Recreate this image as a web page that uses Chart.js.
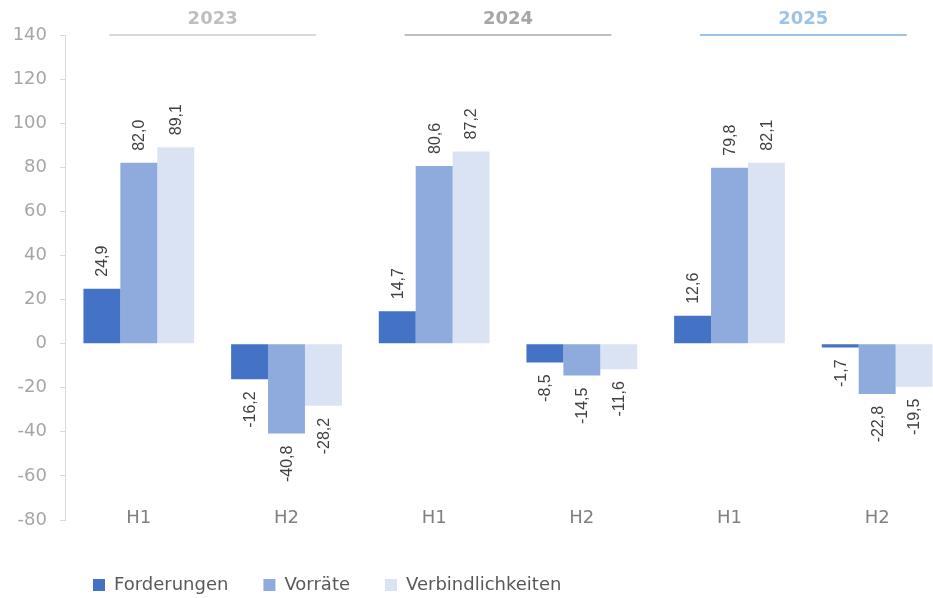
<!DOCTYPE html>
<html>
<head>
<meta charset="utf-8">
<title>Forderungen, Vorräte, Verbindlichkeiten</title>
<script src="https://cdn.jsdelivr.net/npm/chart.js@4.4.1/dist/chart.umd.min.js"></script>
<style>
  html, body { margin: 0; padding: 0; background: #fff; overflow: hidden; }
  #wrap { width: 951px; height: 598px; }
</style>
</head>
<body>
<div id="wrap"><canvas id="chart" width="951" height="598"></canvas></div>
<script>
// half years, grouped by year
const categories = ["H1", "H2", "H1", "H2", "H1", "H2"];
const years = ["2023", "2024", "2025"];

const forderungen = [24.9, -16.2, 14.7, -8.5, 12.6, -1.7];
const vorraete = [82.0, -40.8, 80.6, -14.5, 79.8, -22.8];
const verbindlichkeiten = [89.1, -28.2, 87.2, -11.6, 82.1, -19.5];

const yTicks = { min: -80, max: 140, step: 20 };

const yearTextColors = ["#bfbfbf", "#a6a6a6", "#9dc3e6"];
const yearLineColors = ["#d9d9d9", "#bfbfbf", "#9dc3e6"];

Chart.defaults.font.family = "'DejaVu Sans', sans-serif";

function fmt(v) {
    return v.toFixed(1).replace(".", ",");
}

// rotated value labels at the bar ends
const valueLabels = {
    id: "valueLabels",
    afterDatasetsDraw(chart) {
        const ctx = chart.ctx;
        ctx.save();
        ctx.font = "16px 'Liberation Sans', Arial, sans-serif";
        ctx.fillStyle = "#404040";
        ctx.textBaseline = "middle";
        chart.data.datasets.forEach((ds, i) => {
            const meta = chart.getDatasetMeta(i);
            meta.data.forEach((bar, j) => {
                const v = ds.data[j];
                ctx.save();
                ctx.translate(bar.x + 1, v >= 0 ? bar.y - 12 : bar.y + 12);
                ctx.rotate(-Math.PI / 2);
                ctx.textAlign = v >= 0 ? "left" : "right";
                ctx.fillText(fmt(v), 0, 0);
                ctx.restore();
            });
        });
        ctx.restore();
    }
};

// year headings with a line over each pair of half years
const yearHeaders = {
    id: "yearHeaders",
    afterDraw(chart) {
        const ctx = chart.ctx;
        const x = chart.scales.x;
        const top = chart.chartArea.top;
        const step = x.getPixelForValue(1) - x.getPixelForValue(0);
        ctx.save();
        years.forEach((yr, k) => {
            const cx = (x.getPixelForValue(2 * k) + x.getPixelForValue(2 * k + 1)) / 2;
            ctx.strokeStyle = yearLineColors[k];
            ctx.lineWidth = 2;
            ctx.beginPath();
            ctx.moveTo(cx - step * 0.7, top);
            ctx.lineTo(cx + step * 0.7, top);
            ctx.stroke();
            ctx.font = "bold 18px 'DejaVu Sans', sans-serif";
            ctx.fillStyle = yearTextColors[k];
            ctx.textAlign = "center";
            ctx.textBaseline = "middle";
            ctx.fillText(yr, cx, 19);
        });
        ctx.restore();
    }
};

// nudge the legend so it starts under the axis like in the original
const legendShift = {
    id: "legendShift",
    afterLayout(chart) {
        if (chart.legend) chart.legend.left = chart.chartArea.left - 7;
    }
};

new Chart(document.getElementById("chart"), {
    type: "bar",
    data: {
        labels: categories,
        datasets: [
            { label: "Forderungen", data: forderungen, backgroundColor: "#4472c4" },
            { label: "Vorräte", data: vorraete, backgroundColor: "#8faadc" },
            { label: "Verbindlichkeiten", data: verbindlichkeiten, backgroundColor: "#dae3f3" }
        ]
    },
    options: {
        responsive: false,
        animation: false,
        layout: { padding: { top: 35, left: 0, right: 0, bottom: 0 } },
        datasets: { bar: { categoryPercentage: 0.75, barPercentage: 1.0 } },
        plugins: {
            legend: {
                position: "bottom",
                align: "start",
                fullSize: false,
                maxHeight: 57,
                labels: {
                    boxWidth: 12,
                    boxHeight: 12,
                    padding: 35,
                    color: "#595959",
                    font: { size: 18 }
                }
            },
            tooltip: { enabled: false }
        },
        scales: {
            x: {
                grid: { display: false, drawTicks: false },
                border: { display: false },
                ticks: { color: "#808080", font: { size: 18 }, mirror: true, padding: -9 },
                afterFit(axis) { axis.height = 21; }
            },
            y: {
                min: yTicks.min,
                max: yTicks.max,
                ticks: { stepSize: yTicks.step, color: "#a6a6a6", font: { size: 18 }, padding: 13 },
                grid: { drawOnChartArea: false, drawTicks: true, tickLength: 5, color: "#d9d9d9" },
                border: { color: "#d9d9d9" },
                afterFit(axis) { axis.width = 65; }
            }
        }
    },
    plugins: [valueLabels, yearHeaders, legendShift]
});
</script>
</body>
</html>
